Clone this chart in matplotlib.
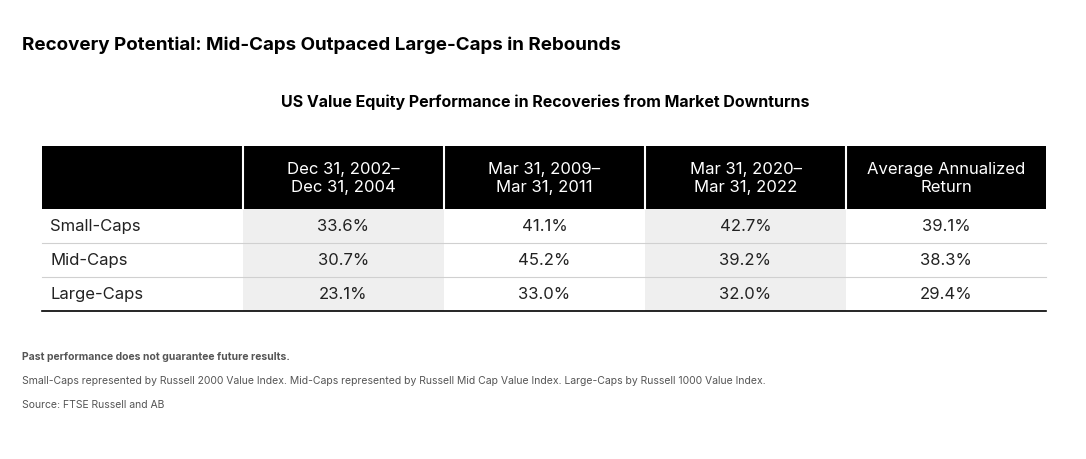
import matplotlib.pyplot as plt
from matplotlib.patches import Rectangle

title = "Recovery Potential: Mid-Caps Outpaced Large-Caps in Rebounds"
subtitle = "US Value Equity Performance in Recoveries from Market Downturns"
headers = ["Dec 31, 2002–\nDec 31, 2004", "Mar 31, 2009–\nMar 31, 2011",
           "Mar 31, 2020–\nMar 31, 2022", "Average Annualized\nReturn"]
rows = ["Small-Caps", "Mid-Caps", "Large-Caps"]
values = [[33.6, 41.1, 42.7, 39.1],
          [30.7, 45.2, 39.2, 38.3],
          [23.1, 33.0, 32.0, 29.4]]
notes = ["Past performance does not guarantee future results.",
         "Small-Caps represented by Russell 2000 Value Index. Mid-Caps represented by Russell Mid Cap Value Index. Large-Caps by Russell 1000 Value Index.",
         "Source: FTSE Russell and AB"]

plt.rcParams['font.family'] = ['Inter', 'DejaVu Sans']
fig = plt.figure(figsize=(10.86, 4.6), dpi=100)
ax = fig.add_axes([0, 0, 1, 1])
ax.set_xlim(0, 1086)
ax.set_ylim(460, 0)
ax.axis('off')

ax.text(22, 45, title, fontsize=13.5, fontweight='bold', va='center', ha='left')
ax.text(545, 102, subtitle, fontsize=11.5, fontweight='bold', va='center', ha='center')

left, right = 42, 1046
col_x = [42, 243, 444, 645, 846, 1046]
head_top, head_bot = 147, 210
row_h = 34

ax.add_patch(Rectangle((left, head_top), right - left, head_bot - head_top, color='black', lw=0))
for j, h in enumerate(headers):
    cx = (col_x[j + 1] + col_x[j + 2]) / 2
    ax.text(cx, (head_top + head_bot) / 2, h, color='white', fontsize=12, ha='center',
            va='center', linespacing=1.25)
    ax.plot([col_x[j + 1]] * 2, [head_top, head_bot], color='white', lw=1.5)

for i, (name, vals) in enumerate(zip(rows, values)):
    y0 = head_bot + i * row_h
    for j, v in enumerate(vals):
        if j in (0, 2):
            ax.add_patch(Rectangle((col_x[j + 1], y0), col_x[j + 2] - col_x[j + 1], row_h,
                                   color='#efefef', lw=0))
        ax.text((col_x[j + 1] + col_x[j + 2]) / 2, y0 + row_h / 2, f"{v:.1f}%",
                fontsize=12, ha='center', va='center', color='#222222')
    ax.text(50, y0 + row_h / 2, name, fontsize=12, ha='left', va='center', color='#222222')
    yb = y0 + row_h
    if i < len(rows) - 1:
        ax.plot([left, right], [yb, yb], color='#d0d0d0', lw=0.8)
    else:
        ax.plot([left, right], [yb, yb], color='black', lw=1.2)

ax.text(22, 357, notes[0], fontsize=7.5, fontweight='bold', color='#555555', va='center')
ax.text(22, 381, notes[1], fontsize=7.5, color='#555555', va='center')
ax.text(22, 405, notes[2], fontsize=7.5, color='#555555', va='center')

fig.savefig('out.png', dpi=100, facecolor='white')
